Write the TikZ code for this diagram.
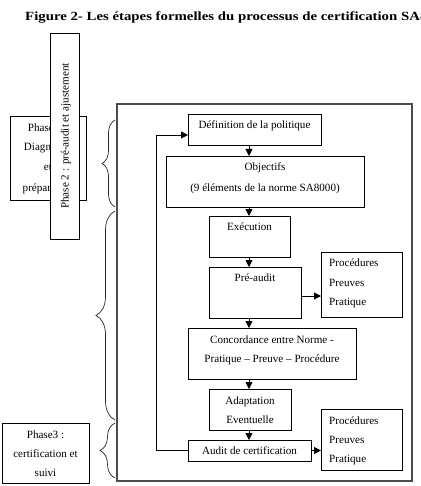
\documentclass[tikz,border=0pt]{standalone}
\usepackage{graphicx}
\usepackage{fontspec}
\setmainfont{Liberation Serif}
\usetikzlibrary{arrows.meta,decorations.pathreplacing}
\begin{document}
\begin{tikzpicture}[x=1pt,y=-1pt,
  box/.style={draw=black,line width=0.9pt,fill=white,anchor=north west,inner sep=0pt,outer sep=0pt},
  lbl/.style={font=\fontsize{11.1}{13}\selectfont,inner sep=0pt,anchor=base},
  lbll/.style={lbl,anchor=base west},
  arr/.style={line width=0.9pt,-{Triangle[length=7pt,width=7pt]}},
  brc/.style={decorate,decoration={brace,amplitude=#1},line width=0.7pt,draw=black!85},
]
\useasboundingbox (0,0) rectangle (420,486);

% title (set a little wide)
\node[font=\fontsize{12.5}{15}\selectfont\bfseries,anchor=base west,inner sep=0pt] (title) at (25,20.5)
  {\scalebox{1.185}[1]{Figure 2- Les étapes formelles du processus de certification SA8000}};

% outer frame of the process
\node[box,draw=black!70,line width=1.1pt,fill=none,minimum width=295pt,minimum height=377pt] (frame) at (117,104) {};

% phase boxes
\node[box,minimum width=76pt,minimum height=84pt] (ph1) at (10,116) {};
\node[lbl] (tph1a) at (48,131.5) {Phase 1 :};
\node[lbl] (tph1b) at (48,150.5) {Diagnostic};
\node[lbl] (tph1c) at (48,170.5) {et};
\node[lbl] (tph1d) at (48,191.5) {préparation};

\node[box,minimum width=29pt,minimum height=206pt] (ph2) at (50,33) {};
\node[lbl,rotate=90,anchor=center] (tph2) at (66,136) {Phase 2 : pré-audit et ajustement};

\node[box,minimum width=87pt,minimum height=60pt] (ph3) at (2,423) {};
\node[lbl] (tph3a) at (45.5,438.5) {Phase3 :};
\node[lbl] (tph3b) at (45.5,457.5) {certification et};
\node[lbl] (tph3c) at (45.5,476.5) {suivi};

% braces
\draw[brc=13] (115,207) -- (115,120);
\draw[brc=19] (115,420) -- (115,211);
\draw[brc=15] (115,478) -- (115,423);

% process steps
\node[box,minimum width=133pt,minimum height=31pt] (def) at (188,114) {};
\node[lbl] (tdef) at (254.5,129) {Définition de la politique};

\node[box,minimum width=198pt,minimum height=51pt] (obj) at (166,156) {};
\node[lbl] (tobja) at (265,170.5) {Objectifs};
\node[lbl] (tobjb) at (265,191.5) {(9 éléments de la norme SA8000)};

\node[box,minimum width=81pt,minimum height=41pt] (exe) at (209,216) {};
\node[lbl] (texe) at (249.5,230.5) {Exécution};

\node[box,minimum width=92pt,minimum height=51pt] (pre) at (209,267) {};
\node[lbl] (tpre) at (255,281.5) {Pré-audit};

\node[box,minimum width=81pt,minimum height=65pt] (ra) at (321,252) {};
\node[lbll] (tra1) at (329,266.5) {Procédures};
\node[lbll] (tra2) at (329,286.5) {Preuves};
\node[lbll] (tra3) at (329,305.5) {Pratique};

\node[box,minimum width=168pt,minimum height=51pt] (con) at (188,328) {};
\node[lbl] (tcona) at (272,343.5) {Concordance entre Norme -};
\node[lbl] (tconb) at (272,362.5) {Pratique -- Preuve -- Procédure};

\node[box,minimum width=82pt,minimum height=41pt] (ada) at (209,389) {};
\node[lbl] (tadaa) at (250,404.5) {Adaptation};
\node[lbl] (tadab) at (250,423.5) {Eventuelle};

\node[box,minimum width=123pt,minimum height=21pt] (aud) at (188,440) {};
\node[lbl] (taud) at (249.5,454.5) {Audit de certification};

\node[box,minimum width=81pt,minimum height=61pt] (rb) at (321,409) {};
\node[lbll] (trb1) at (329,424.5) {Procédures};
\node[lbll] (trb2) at (329,443.5) {Preuves};
\node[lbll] (trb3) at (329,462.5) {Pratique};

% connectors
\coordinate (col) at (249,0);
\draw[arr] (def.south -| col) -- (obj.north -| col);
\draw[arr] (obj.south -| col) -- (exe.north -| col);
\draw[arr] (exe.south -| col) -- (pre.north -| col);
\draw[arr] (pre.south -| col) -- (con.north -| col);
\draw[arr] (con.south -| col) -- (ada.north -| col);
\draw[arr] (ada.south -| col) -- (aud.north -| col);

\draw[arr] ([yshift=-3.5pt]pre.east) -- ([yshift=-3.5pt]pre.east -| ra.west);
\draw[arr] (aud.east) -- (aud.east -| rb.west);

% feedback loop
\coordinate (fbl) at (156,450.5);
\coordinate (fbt) at (156,135);
\draw[arr] (aud.west) -- (fbl) -- (fbt) -- (fbt -| def.west);
\end{tikzpicture}
\end{document}
